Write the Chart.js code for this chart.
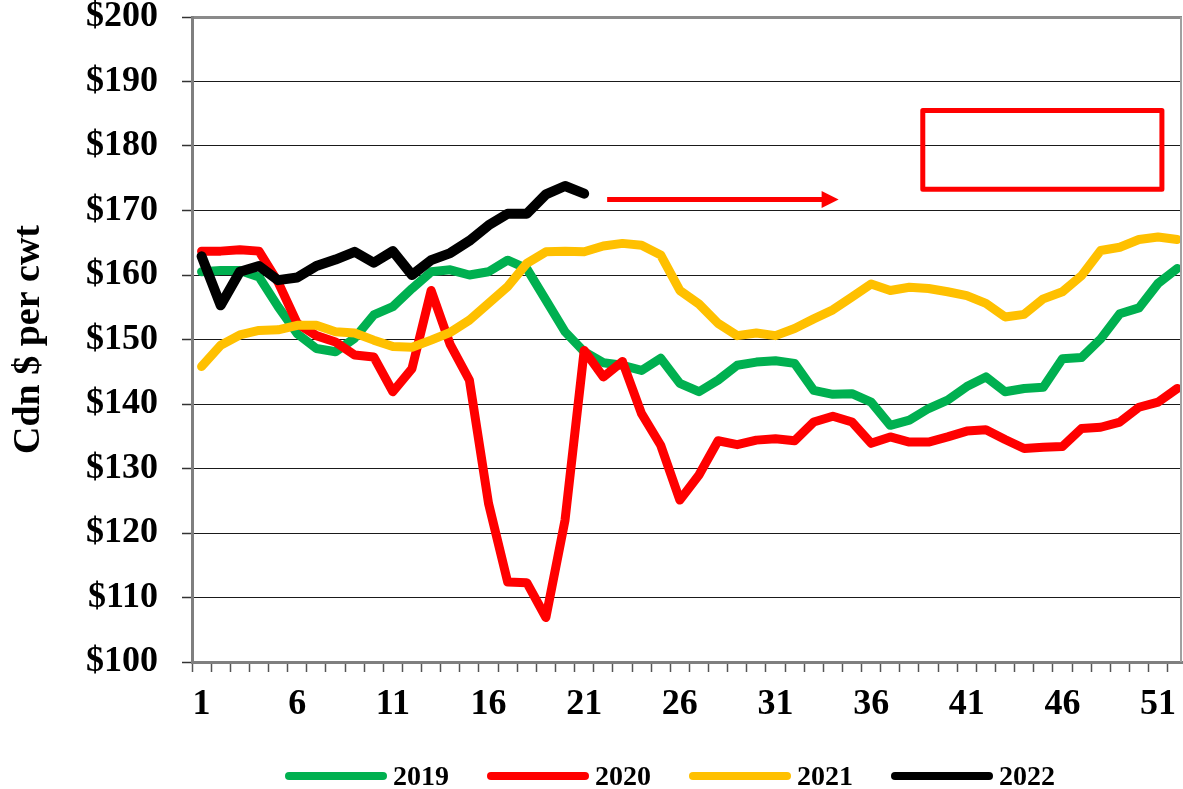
<!DOCTYPE html>
<html>
<head>
<meta charset="utf-8">
<script src="https://cdn.jsdelivr.net/npm/chart.js@4"></script>
<style>
  html, body { margin: 0; padding: 0; background: #fff; overflow: hidden; }
  #wrap { width: 1183px; height: 789px; }
</style>
</head>
<body>
<div id="wrap"><canvas id="chart" width="1183" height="789"></canvas></div>
<script>
// Weekly prices, Cdn $ per cwt
const weeks = [1, 2, 3, 4, 5, 6, 7, 8, 9, 10, 11, 12, 13, 14, 15, 16, 17, 18, 19, 20, 21, 22, 23, 24, 25, 26,
  27, 28, 29, 30, 31, 32, 33, 34, 35, 36, 37, 38, 39, 40, 41, 42, 43, 44, 45, 46, 47, 48, 49, 50, 51, 52];
const labelWeeks = [1, 6, 11, 16, 21, 26, 31, 36, 41, 46, 51];

const series2019 = [160.5, 160.7, 160.7, 159.7, 155.1, 150.9, 148.6, 148.1, 150.2, 153.8, 155.1, 157.9, 160.5,
  160.8, 160.0, 160.5, 162.3, 161.0, 156.1, 151.2, 148.1, 146.4, 146.0, 145.2, 147.1, 143.2, 141.9, 143.7,
  146.0, 146.5, 146.7, 146.3, 142.1, 141.5, 141.6, 140.3, 136.7, 137.5, 139.3, 140.6, 142.7, 144.2, 141.9,
  142.4, 142.6, 147.0, 147.2, 150.1, 154.0, 154.9, 158.7, 161.0];
const series2020 = [163.7, 163.7, 163.9, 163.7, 158.9, 152.5, 150.6, 149.6, 147.6, 147.3, 141.9, 145.5, 157.6,
  149.2, 143.7, 124.6, 112.4, 112.3, 106.9, 122.0, 148.3, 144.2, 146.6, 138.5, 133.6, 125.1, 129.0, 134.3,
  133.7, 134.4, 134.6, 134.3, 137.2, 138.1, 137.2, 133.9, 134.9, 134.1, 134.1, 134.9, 135.8, 136.0, 134.5,
  133.1, 133.3, 133.4, 136.2, 136.4, 137.2, 139.5, 140.3, 142.4];
const series2021 = [145.8, 149.1, 150.7, 151.4, 151.5, 152.2, 152.2, 151.2, 151.0, 149.9, 148.9, 148.8, 149.9,
  151.1, 153.0, 155.6, 158.2, 161.8, 163.6, 163.7, 163.6, 164.5, 164.9, 164.6, 163.1, 157.6, 155.5, 152.5,
  150.6, 151.0, 150.6, 151.7, 153.2, 154.6, 156.6, 158.6, 157.6, 158.1, 157.9, 157.4, 156.8, 155.6, 153.5,
  153.9, 156.3, 157.4, 159.9, 163.8, 164.3, 165.5, 165.9, 165.5];
const series2022 = [162.9, 155.3, 160.5, 161.4, 159.2, 159.6, 161.4, 162.4, 163.6, 161.9, 163.7, 160.0, 162.3,
  163.4, 165.3, 167.7, 169.5, 169.5, 172.5, 173.8, 172.6];

// annotation marks, in week / price units
const arrowFrom = { week: 22.2, price: 171.7 };
const arrowTo = { week: 34.3, price: 171.7 };
const boxArea = { fromWeek: 38.7, toWeek: 51.2, low: 173.3, high: 185.5 };

const serif = 'Liberation Serif, Times New Roman, serif';

const annotations = {
  id: 'annotations',
  afterDatasetsDraw(chart) {
    const { ctx, scales: { x, y }, chartArea } = chart;
    ctx.save();
    // right edge of the plot area
    ctx.strokeStyle = '#a0a0a0';
    ctx.lineWidth = 2;
    ctx.beginPath();
    ctx.moveTo(chartArea.right - 1, chartArea.top);
    ctx.lineTo(chartArea.right - 1, chartArea.bottom);
    ctx.stroke();

    ctx.strokeStyle = '#ff0000';
    ctx.fillStyle = '#ff0000';
    // arrow
    const ax1 = x.getPixelForValue(arrowFrom.week);
    const ax2 = x.getPixelForValue(arrowTo.week);
    const ay = y.getPixelForValue(arrowFrom.price);
    ctx.lineWidth = 5;
    ctx.beginPath();
    ctx.moveTo(ax1, ay);
    ctx.lineTo(ax2 - 16, ay);
    ctx.stroke();
    ctx.beginPath();
    ctx.moveTo(ax2, ay);
    ctx.lineTo(ax2 - 17, ay - 8.5);
    ctx.lineTo(ax2 - 17, ay + 8.5);
    ctx.closePath();
    ctx.fill();
    // box
    const bx1 = x.getPixelForValue(boxArea.fromWeek);
    const bx2 = x.getPixelForValue(boxArea.toWeek);
    const by1 = y.getPixelForValue(boxArea.high);
    const by2 = y.getPixelForValue(boxArea.low);
    ctx.lineJoin = 'round';
    ctx.strokeRect(bx1, by1, bx2 - bx1, by2 - by1);
    ctx.restore();
  },
  afterDraw(chart) {
    const { ctx } = chart;
    ctx.save();
    ctx.font = 'bold 28px ' + serif;
    ctx.textBaseline = 'alphabetic';
    let lx = 285;
    const ly = 776;
    chart.data.datasets.forEach((ds) => {
      ctx.strokeStyle = ds.borderColor;
      ctx.lineWidth = 8;
      ctx.lineCap = 'round';
      ctx.beginPath();
      ctx.moveTo(lx + 4, ly);
      ctx.lineTo(lx + 98, ly);
      ctx.stroke();
      ctx.fillStyle = '#000';
      ctx.fillText(ds.label, lx + 108, ly + 9);
      lx += 108 + ctx.measureText(ds.label).width + 38;
    });
    ctx.restore();
  },
};

const lineStyle = {
  pointRadius: 0,
  borderCapStyle: 'round',
  borderJoinStyle: 'round',
  tension: 0,
  fill: false,
};

new Chart(document.getElementById('chart'), {
  type: 'line',
  data: {
    labels: weeks,
    datasets: [
      { ...lineStyle, label: '2019', data: series2019, borderColor: '#00b050', borderWidth: 9, order: 3 },
      { ...lineStyle, label: '2020', data: series2020, borderColor: '#ff0000', borderWidth: 9, order: 2 },
      { ...lineStyle, label: '2021', data: series2021, borderColor: '#ffc000', borderWidth: 9, order: 1 },
      { ...lineStyle, label: '2022', data: series2022, borderColor: '#000000', borderWidth: 10, order: 0 },
    ],
  },
  options: {
    responsive: false,
    animation: false,
    devicePixelRatio: 1,
    layout: { padding: { top: 17, right: 1, left: 0, bottom: 0 } },
    plugins: { legend: { display: false }, tooltip: { enabled: false } },
    scales: {
      x: {
        type: 'linear',
        min: 0.5,
        max: 52.25,
        afterBuildTicks: (scale) => {
          const values = weeks.map((w) => w - 0.5).concat(labelWeeks);
          scale.ticks = values.sort((a, b) => a - b).map((value) => ({ value }));
        },
        afterFit: (scale) => {
          scale.height = 127;
          scale.paddingLeft = 0;
          scale.paddingRight = 0;
        },
        ticks: {
          autoSkip: false,
          maxRotation: 0,
          padding: 11,
          color: '#000',
          font: { family: serif, weight: 'bold', size: 36 },
          callback: (value) => (labelWeeks.includes(value) ? String(value) : ''),
        },
        grid: {
          drawOnChartArea: false,
          tickLength: 10,
          tickWidth: 1.5,
          tickColor: (c) => (Number.isInteger(c.tick.value) ? 'rgba(0,0,0,0)' : '#555'),
        },
        border: { color: '#7f7f7f', width: 3 },
      },
      y: {
        min: 100,
        max: 200,
        afterFit: (scale) => {
          scale.width = 192;
          // labels may overhang the plot edges, as in the original
          scale.paddingTop = 0;
          scale.paddingBottom = 0;
        },
        ticks: {
          stepSize: 10,
          padding: 24,
          color: '#000',
          font: { family: serif, weight: 'bold', size: 36 },
          callback: (value) => '$' + value,
        },
        grid: {
          color: (c) => (c.tick.value === 200 ? '#8a8a8a' : '#1a1a1a'),
          lineWidth: (c) => (c.tick.value === 200 ? 3 : 1),
          tickLength: 10,
          tickColor: '#333',
          tickWidth: 1.5,
        },
        border: { color: '#7f7f7f', width: 3 },
        title: {
          display: true,
          text: 'Cdn $ per cwt',
          color: '#000',
          padding: { top: 6, bottom: 0 },
          font: { family: serif, weight: 'bold', size: 38 },
        },
      },
    },
  },
  plugins: [annotations],
});
</script>
</body>
</html>
